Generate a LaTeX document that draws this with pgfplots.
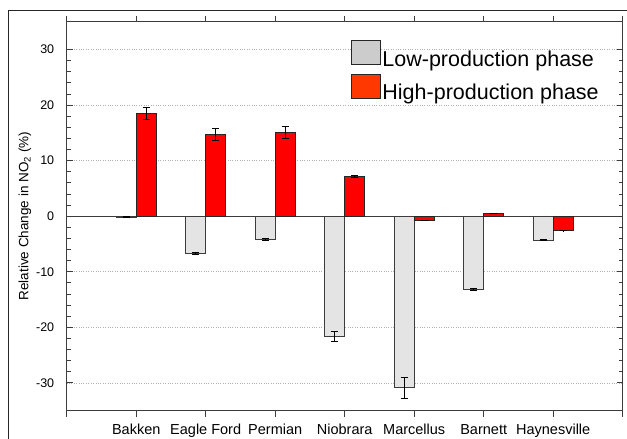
\documentclass[border=0pt]{standalone}
\usepackage{pgfplots}
\pgfplotsset{compat=1.18}
\usepackage{fontspec}
\setmainfont{Liberation Sans}

\definecolor{axisgray}{RGB}{60,60,60}
\definecolor{lowfill}{RGB}{228,228,228}
\definecolor{lowleg}{RGB}{204,204,204}
\definecolor{highfill}{RGB}{255,0,0}
\definecolor{highleg}{RGB}{255,55,0}

% Basin order: Bakken, Eagle Ford, Permian, Niobrara, Marcellus, Barnett, Haynesville
\pgfplotstableread{
x   y      err
1   -0.15  0.05
2   -6.7   0.2
3   -4.2   0.1
4   -21.6  0.9
5   -30.9  1.95
6   -13.2  0.2
7   -4.3   0.1
}\lowphase
\pgfplotstableread{
x   y      err
1   18.5   1.1
2   14.7   1.1
3   15.1   1.1
4   7.1    0.2
5   -0.75  0.05
6   0.5    0.05
7   -2.6   0.05
}\highphase

\begin{document}
\begin{tikzpicture}
\begin{axis}[
  at={(66.7pt,-410.7pt)}, anchor=south west,
  scale only axis, width=556pt, height=389pt,
  axis lines=box, clip=false,
  xmin=0, xmax=8, ymin=-35, ymax=35,
  xtick={1,...,7},
  xticklabels={Bakken, Eagle Ford, Permian, Niobrara, Marcellus, Barnett, Haynesville},
  ytick={-30,-20,-10,0,10,20,30},
  minor y tick num=4,
  tick align=inside,
  major tick length=6pt, minor tick length=4pt,
  axis line style={solid, draw=axisgray, line width=1.3pt},
  major tick style={solid, draw=axisgray, line width=1pt},
  minor tick style={solid, draw=axisgray, line width=0.8pt},
  xtick pos=both, ytick pos=both,
  ymajorgrids,
  grid style={dotted, black!30, line width=0.8pt},
  % zero line and the frame edges of the plot area
  extra y ticks={-35,0,35},
  extra y tick labels={},
  extra y tick style={grid=major, major grid style={solid, draw=axisgray, line width=1.3pt}},
  extra x ticks={0,8},
  extra x tick labels={},
  extra x tick style={grid=major, major grid style={solid, draw=axisgray, line width=1.3pt}},
  yticklabel style={font=\fontsize{12.5}{14}\selectfont, xshift=-9pt},
  xticklabel style={font=\fontsize{14.5}{16}\selectfont, yshift=-4pt},
  /pgf/number format/assume math mode=true,
  ylabel={Relative Change in NO\textsubscript{2} (\%)},
  every axis y label/.style={at={(rel axis cs:0,0.5)}, xshift=-41.7pt, rotate=90, anchor=center,
    font=\fontsize{13.5}{15}\selectfont},
  ybar, bar width=20pt,
  legend style={draw=none, fill=none, at={(0.506,0.958)}, anchor=north west,
    font=\fontsize{21.5}{24}\selectfont, row sep=5pt, column sep=0pt,
    nodes={inner sep=1pt}, cells={anchor=west}},
]
% outer frame, left and top edges
\draw[solid, line width=1pt, draw=black!85]
  ([xshift=-58.4pt, yshift=-30pt]rel axis cs:0,0) -- ([xshift=-58.4pt, yshift=10.9pt]rel axis cs:0,1)
  -- ([xshift=6pt, yshift=10.9pt]rel axis cs:1,1);
\addplot[bar shift=-10pt, fill=lowfill, draw=axisgray, solid, line width=1.1pt,
  error bars/.cd, y dir=both, y explicit,
  error bar style={solid, black, line width=1pt},
  error mark options={rotate=90, mark size=3.5pt, line width=1pt, black},
  /pgfplots/legend image code/.code={\draw[solid, fill=lowleg, draw=black!85, line width=1.2pt] (0pt,-5.7pt) rectangle (29pt,18.3pt);}]
  table[x=x, y=y, y error=err] {\lowphase};
\addlegendentry{Low-production phase}
\addplot[bar shift=10pt, fill=highfill, draw=black!85, solid, line width=1.1pt,
  error bars/.cd, y dir=both, y explicit,
  error bar style={solid, black, line width=1pt},
  error mark options={rotate=90, mark size=3.5pt, line width=1pt, black},
  /pgfplots/legend image code/.code={\draw[solid, fill=highleg, draw=black!85, line width=1.2pt] (0pt,-5.7pt) rectangle (29pt,18.3pt);}]
  table[x=x, y=y, y error=err] {\highphase};
\addlegendentry{High-production phase}
\end{axis}
\pgfresetboundingbox
\useasboundingbox (0pt,0pt) rectangle (627pt,-439pt);
\end{tikzpicture}
\end{document}
